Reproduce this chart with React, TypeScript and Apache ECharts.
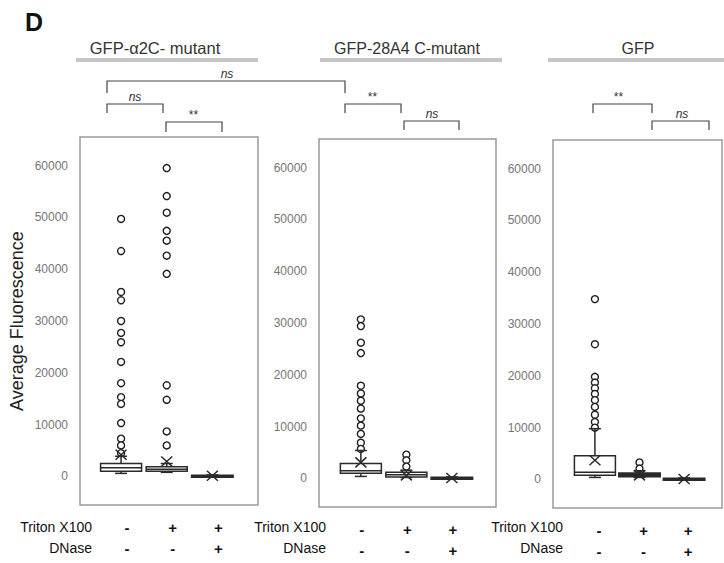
import React, { useEffect, useRef } from 'react';
import * as echarts from 'echarts';

// ---------------- data ----------------
const panelTitles = ['GFP-α2C- mutant', 'GFP-28A4 C-mutant', 'GFP'];
const groupPositions = [1, 2, 3];
const tritonSigns = ['-', '+', '+'];
const dnaseSigns = ['-', '-', '+'];
const yTickValues = [0, 10000, 20000, 30000, 40000, 50000, 60000];
const yTitle = 'Average Fluorescence';
const bracketLabels = ['ns', 'ns', '**', '**', 'ns', '**', 'ns'];

// [min, Q1, median, Q3, max, mean]
const boxA2C = [
  [600, 1000, 1700, 2500, 3900, 4200],
  [800, 1000, 1400, 1900, 2500, 2900],
  [0, 50, 100, 200, 300, 150],
];
const box28A4 = [
  [400, 1000, 1500, 2900, 5400, 3100],
  [200, 300, 700, 1200, 1600, 600],
  [0, 50, 100, 200, 300, 100],
];
const boxGFP = [
  [400, 800, 1400, 4600, 9800, 3700],
  [400, 600, 900, 1200, 1700, 800],
  [0, 50, 100, 200, 300, 100],
];

const outA2C = [
  [49700, 43500, 35600, 34000, 30000, 27700, 25900, 22100, 18000, 15300, 14000, 10300, 7300, 6000, 4500],
  [59500, 54100, 50900, 47400, 45500, 42600, 39100, 17600, 14800, 8700, 6000],
  [],
];
const out28A4 = [
  [30700, 29400, 26200, 24200, 17900, 16400, 15000, 13500, 11600, 10200, 8600, 6900, 5700],
  [4600, 3500, 2300],
  [],
];
const outGFP = [
  [34800, 26100, 19800, 18700, 17600, 16500, 15300, 14000, 12500, 11100, 10000],
  [3300, 2100],
  [],
];

const boxStats = [boxA2C, box28A4, boxGFP];
const outliers = [outA2C, out28A4, outGFP];

// ---------------- layout ----------------
const FONT = 'Liberation Sans, Arial, Helvetica, sans-serif';
const gridLefts = [80, 319, 553];
const gridWidths = [178, 177, 169];
const gridTops = [137, 139, 140];
const gridHeight = 368;
const xRanges = [
  [0.1, 4.0],
  [0.08, 3.97],
  [0.06, 3.85],
];
const yRange = [-5500, 65500];
const signPad = [12, 2, 8];
const sideLabelRight = [92, 326, 563];

const STROKE = '#2a2a2a';

function renderBox(params: any, api: any) {
  const x = api.value(0);
  const p = (v: number) => api.coord([x, v]);
  const [cx, yMin] = p(api.value(1));
  const yQ1 = p(api.value(2))[1];
  const yMed = p(api.value(3))[1];
  const yQ3 = p(api.value(4))[1];
  const yMax = p(api.value(5))[1];
  const yMean = p(api.value(6))[1];
  const hw = 20.5;
  const cap = 6;
  const xs = 5.5;
  const ys = 5;
  const st = { stroke: STROKE, lineWidth: 1.5 };
  const h = yQ1 - yQ3;
  return {
    type: 'group',
    children: [
      { type: 'line', shape: { x1: cx, y1: yQ3, x2: cx, y2: yMax }, style: st },
      { type: 'line', shape: { x1: cx, y1: yQ1, x2: cx, y2: yMin }, style: st },
      { type: 'line', shape: { x1: cx - cap, y1: yMax, x2: cx + cap, y2: yMax }, style: st },
      { type: 'line', shape: { x1: cx - cap, y1: yMin, x2: cx + cap, y2: yMin }, style: st },
      {
        type: 'rect',
        shape: { x: cx - hw, y: yQ3, width: 2 * hw, height: Math.max(h, 1.5) },
        style: { fill: h < 4 ? STROKE : '#fff', stroke: STROKE, lineWidth: h < 4 ? 2 : 1.5 },
      },
      { type: 'line', shape: { x1: cx - hw, y1: yMed, x2: cx + hw, y2: yMed }, style: st },
      { type: 'line', shape: { x1: cx - xs, y1: yMean - ys, x2: cx + xs, y2: yMean + ys }, style: st },
      { type: 'line', shape: { x1: cx - xs, y1: yMean + ys, x2: cx + xs, y2: yMean - ys }, style: st },
    ],
  };
}

function bracket(x1: number, x2: number, y: number, drop: number, label: string, lx: number, ly: number) {
  return [
    {
      type: 'polyline',
      shape: { points: [[x1, y + drop], [x1, y], [x2, y], [x2, y + drop]] },
      style: { stroke: '#444', lineWidth: 1.2, fill: 'none' },
    },
    {
      type: 'text',
      x: lx,
      y: ly,
      style: {
        text: label,
        fontFamily: FONT,
        fontSize: 12,
        fontStyle: 'italic',
        fill: '#333',
        align: 'center',
        verticalAlign: 'middle',
      },
    },
  ];
}

export default function App() {
  const ref = useRef<HTMLDivElement>(null);

  useEffect(() => {
    document.body.style.margin = '0';
    const chart = echarts.init(ref.current!, null, { renderer: 'svg' });

    const grids = gridLefts.map((l, i) => ({
      left: l,
      top: gridTops[i],
      width: gridWidths[i],
      height: gridHeight,
      show: true,
      borderColor: '#9a9a9a',
      borderWidth: 1.5,
      backgroundColor: '#fff',
    }));

    const xAxes = gridLefts.map((_, i) => ({
      type: 'value',
      gridIndex: i,
      min: xRanges[i][0],
      max: xRanges[i][1],
      axisLine: { show: false },
      axisTick: { show: false },
      splitLine: { show: false },
      axisLabel: {
        customValues: groupPositions,
        formatter: (v: number) => {
          const k = groupPositions.indexOf(Math.round(v));
          return k < 0 ? '' : tritonSigns[k] + '\n' + dnaseSigns[k];
        },
        fontFamily: FONT,
        fontSize: 15,
        fontWeight: 'bold',
        color: '#111',
        lineHeight: 21,
        margin: 12,
        padding: [0, 0, 0, signPad[i]],
      },
    }));

    const yAxes = gridLefts.map((_, i) => ({
      type: 'value',
      gridIndex: i,
      min: yRange[0],
      max: yRange[1],
      axisLine: { show: false },
      axisTick: { show: false },
      splitLine: { show: false },
      axisLabel: {
        customValues: yTickValues,
        formatter: (v: number) => String(Math.round(v)),
        fontFamily: FONT,
        fontSize: 12,
        color: '#767676',
        margin: 12,
      },
      name: i === 0 ? yTitle : '',
      nameLocation: 'middle',
      nameGap: 54,
      nameTextStyle: { fontFamily: FONT, fontSize: 18, color: '#222' },
    }));

    const series: any[] = [];
    gridLefts.forEach((_, i) => {
      series.push({
        type: 'scatter',
        xAxisIndex: i,
        yAxisIndex: i,
        data: outliers[i].flatMap((arr, j) => arr.map((v) => [groupPositions[j], v])),
        symbol: 'circle',
        symbolSize: 7,
        itemStyle: { color: '#fff', borderColor: '#1e1e1e', borderWidth: 1.4, opacity: 1 },
        z: 2,
      });
      series.push({
        type: 'custom',
        xAxisIndex: i,
        yAxisIndex: i,
        data: boxStats[i].map((s, j) => [groupPositions[j], ...s]),
        renderItem: renderBox,
        encode: { x: 0, y: [1, 2, 3, 4, 5, 6] },
        z: 3,
      });
    });

    const barSpans = [
      [76, 258],
      [320, 502],
      [548, 724],
    ];
    const titleCenters = [155, 407, 638];
    const titleSizes = [16.5, 16, 16];

    const graphic: any[] = [
      {
        type: 'text',
        x: 25,
        y: 22,
        style: {
          text: 'D',
          fontFamily: FONT,
          fontSize: 25,
          fontWeight: 'bold',
          fill: '#111',
          verticalAlign: 'middle',
        },
      },
    ];
    panelTitles.forEach((t, i) => {
      graphic.push({
        type: 'text',
        x: titleCenters[i],
        y: 48,
        style: {
          text: t,
          fontFamily: FONT,
          fontSize: titleSizes[i],
          fill: '#333',
          align: 'center',
          verticalAlign: 'middle',
        },
      });
      graphic.push({
        type: 'rect',
        shape: { x: barSpans[i][0], y: 58, width: barSpans[i][1] - barSpans[i][0], height: 4 },
        style: { fill: '#c6c6c6' },
      });
      graphic.push({
        type: 'text',
        x: sideLabelRight[i],
        y: 527,
        style: {
          text: 'Triton X100',
          fontFamily: FONT,
          fontSize: 14,
          fill: '#111',
          align: 'right',
          verticalAlign: 'middle',
        },
      });
      graphic.push({
        type: 'text',
        x: sideLabelRight[i],
        y: 548,
        style: {
          text: 'DNase',
          fontFamily: FONT,
          fontSize: 14,
          fill: '#111',
          align: 'right',
          verticalAlign: 'middle',
        },
      });
    });

    const bracketGeom = [
      [107, 345, 81, 12, 227, 74],
      [107, 163, 104, 9, 135, 97],
      [166, 222, 122, 10, 193, 115],
      [345, 401, 104, 9, 372, 97],
      [404, 459, 121, 9, 432, 114],
      [593, 652, 104, 9, 618, 97],
      [652, 709, 121, 9, 682, 114],
    ];
    bracketGeom.forEach((g, k) => {
      graphic.push(...bracket(g[0], g[1], g[2], g[3], bracketLabels[k], g[4], g[5]));
    });

    chart.setOption({
      animation: false,
      backgroundColor: '#fff',
      textStyle: { fontFamily: FONT },
      grid: grids,
      xAxis: xAxes,
      yAxis: yAxes,
      series,
      graphic,
    });

    return () => chart.dispose();
  }, []);

  return <div ref={ref} style={{ width: 724, height: 563 }} />;
}
